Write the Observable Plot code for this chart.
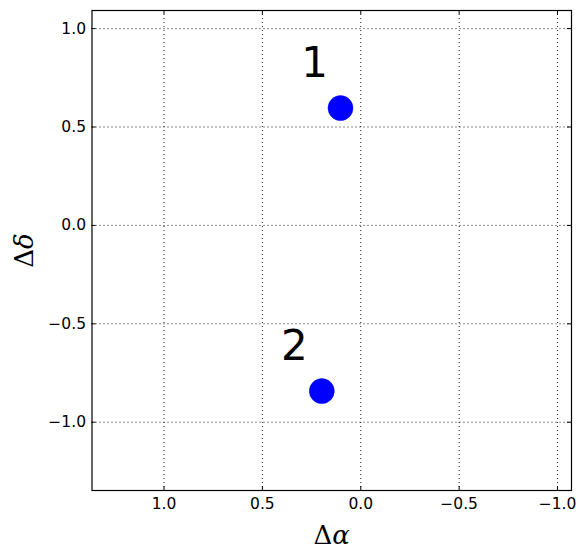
<!DOCTYPE html>
<html>
<head>
<meta charset="utf-8">
<script src="https://cdn.jsdelivr.net/npm/d3@7"></script>
<script src="https://cdn.jsdelivr.net/npm/@observablehq/plot@0.6"></script>
<style>
  html, body { margin: 0; padding: 0; background: #fff; }
</style>
</head>
<body>
<div id="chart"></div>
<script>
// Data
const pointIds = ["1", "2"];
const dAlpha = [0.103, 0.198];
const dDelta = [0.596, -0.842];
const labelAlpha = [0.234, 0.337];
const labelDelta = [0.821, -0.617];
const xTicks = [1.0, 0.5, 0.0, -0.5, -1.0];
const yTicks = [1.0, 0.5, 0.0, -0.5, -1.0];
const xDomain = [1.366, -1.071];
const yDomain = [-1.347, 1.092];

const points = pointIds.map((id, i) => ({id, x: dAlpha[i], y: dDelta[i], lx: labelAlpha[i], ly: labelDelta[i]}));
const fmt = d => d.toFixed(1).replace("-", "\u2212");

const W = 587, H = 558;
const mL = 91.5, mR = 16, mT = 10, mB = 68;
const fw = W - mL - mR, fh = H - mT - mB;

const chart = Plot.plot({
  width: W,
  height: H,
  marginLeft: mL,
  marginRight: mR,
  marginTop: mT,
  marginBottom: mB,
  style: {fontFamily: "DejaVu Sans", fontSize: "15px", color: "#000", background: "#fff"},
  x: {domain: xDomain, ticks: xTicks, tickFormat: fmt},
  y: {domain: yDomain, ticks: yTicks, tickFormat: fmt},
  marks: [
    Plot.gridX(xTicks, {stroke: "#000", strokeOpacity: 0.9, strokeWidth: 1, strokeDasharray: "1,3"}),
    Plot.gridY(yTicks, {stroke: "#000", strokeOpacity: 0.9, strokeWidth: 1, strokeDasharray: "1,3"}),
    Plot.tickX(xTicks, {x: d => d, insetTop: fh - 4, stroke: "#000"}),
    Plot.tickX(xTicks, {x: d => d, insetBottom: fh - 4, stroke: "#000"}),
    Plot.tickY(yTicks, {y: d => d, insetRight: fw - 4, stroke: "#000"}),
    Plot.tickY(yTicks, {y: d => d, insetLeft: fw - 4, stroke: "#000"}),
    Plot.axisX(xTicks, {tickSize: 0, tickPadding: 7, fontSize: 15.5, label: null}),
    Plot.axisY(yTicks, {tickSize: 0, tickPadding: 6, fontSize: 15.5, label: null}),
    Plot.frame({stroke: "#000", strokeWidth: 1.2}),
    Plot.dot(points, {x: "x", y: "y", r: 12.5, fill: "#0000ff", stroke: "#0000ff", strokeWidth: 0.5}),
    Plot.text(points, {x: "lx", y: "ly", text: "id", fontSize: 42, fill: "#000", textAnchor: "middle", lineAnchor: "middle"}),
    Plot.text(["\u0394\u03b1"], {frameAnchor: "bottom", text: d => d, dy: 53, textAnchor: "middle", lineAnchor: "bottom", fontSize: 26, fontFamily: "DejaVu Serif", fill: "#000", className: "axlab"}),
    Plot.text(["\u0394\u03b4"], {frameAnchor: "left", text: d => d, dx: -59.5, rotate: -90, textAnchor: "middle", lineAnchor: "bottom", fontSize: 26, fontFamily: "DejaVu Serif", fill: "#000", className: "axlab"})
  ]
});

// Make the Greek variable letters italic (upright Delta, italic alpha/delta)
d3.select(chart).selectAll(".axlab text").each(function() {
  const t = this.textContent;
  const sel = d3.select(this);
  sel.text(null);
  sel.append("tspan").text(t[0]);
  sel.append("tspan").attr("font-style", "italic").text(t.slice(1));
});

document.getElementById("chart").appendChild(chart);
</script>
</body>
</html>
